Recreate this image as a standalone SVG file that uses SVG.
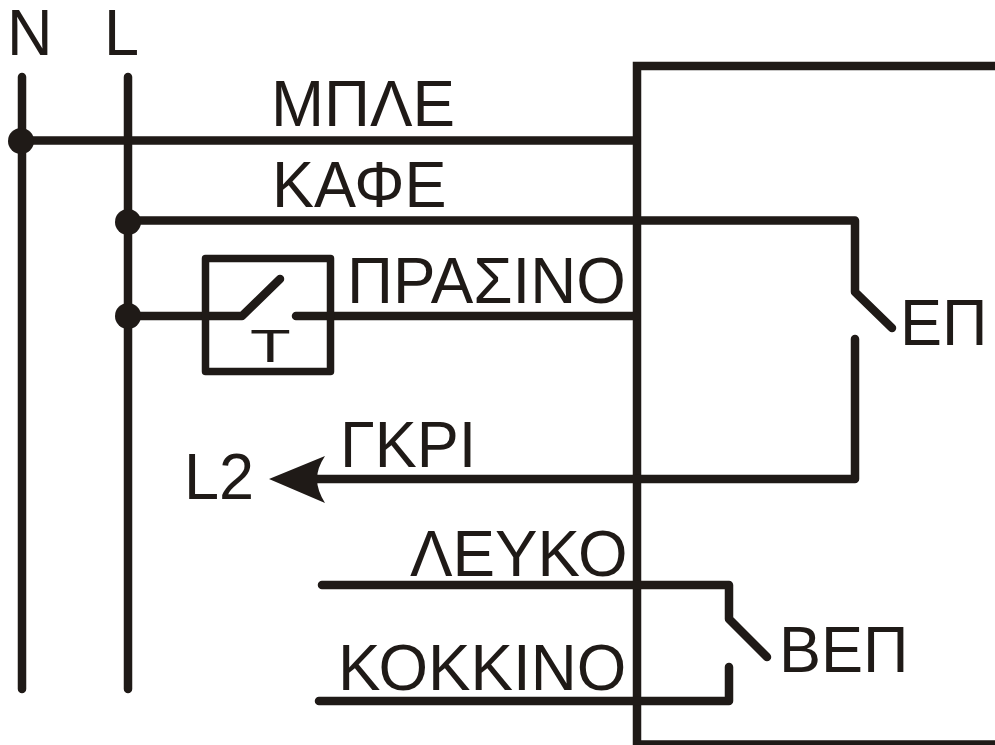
<svg xmlns="http://www.w3.org/2000/svg" width="995" height="745" viewBox="0 0 995 745">
<style>
.w{fill:none;stroke:#1f1a17;stroke-width:8.500;stroke-linecap:round;stroke-linejoin:round}
.d{fill:#1f1a17}
text{font-family:"Liberation Sans",Arial,sans-serif;font-size:65px;fill:#1f1a17}
</style>
<rect width="995" height="745" fill="#fff"/>
<g id="connectors">
<path class="w" d="M22 77V689"/>
<path class="w" d="M128 77V689"/>
<path class="w" style="stroke-linecap:butt;stroke-linejoin:miter" d="M995 66H637V744.500H995"/>
<path class="w" d="M22 140.500H636"/>
<path class="w" d="M128 220.500H855V292L892 328"/>
<path class="w" d="M128 316H242L280 279"/>
<path class="w" d="M296 316H636"/>
<path class="w" d="M855 339V479H310"/>
<path class="w" d="M322 585H729V619L767 657"/>
<path class="w" d="M319 701H729V667"/>
<path class="d" d="M269 479L325 456Q317 468 317 479Q317 490 325 503Z"/>
<circle class="d" cx="21" cy="141" r="13"/>
<circle class="d" cx="128" cy="222" r="13"/>
<circle class="d" cx="128" cy="316" r="13"/>
</g>
<g id="switch-t">
<rect class="w" x="205.500" y="258.500" width="125" height="113" style="stroke-width:7.500"/>
<text transform="translate(250 362) scale(1.45 1)" style="font-size:46px">T</text>
</g>
<g id="labels">
<text transform="translate(7 55) scale(.97 1)">N</text>
<text transform="translate(104 55) scale(.97 1)">L</text>
<text transform="translate(271 126) scale(.98 1)">ΜΠΛΕ</text>
<text transform="translate(272 207) scale(.97 1)">ΚΑΦΕ</text>
<text transform="translate(347 303) scale(.98 1)">ΠΡΑΣΙΝΟ</text>
<text transform="translate(900 345) scale(.97 1)">ΕΠ</text>
<text transform="translate(340 467) scale(.97 1)">ΓΚΡΙ</text>
<text transform="translate(184 499) scale(.97 1)">L2</text>
<text transform="translate(410 576) scale(.98 1)">ΛΕΥΚΟ</text>
<text transform="translate(338 690) scale(.98 1)">ΚΟΚΚΙΝΟ</text>
<text transform="translate(779 672) scale(.97 1)">ΒΕΠ</text>
</g>
</svg>
